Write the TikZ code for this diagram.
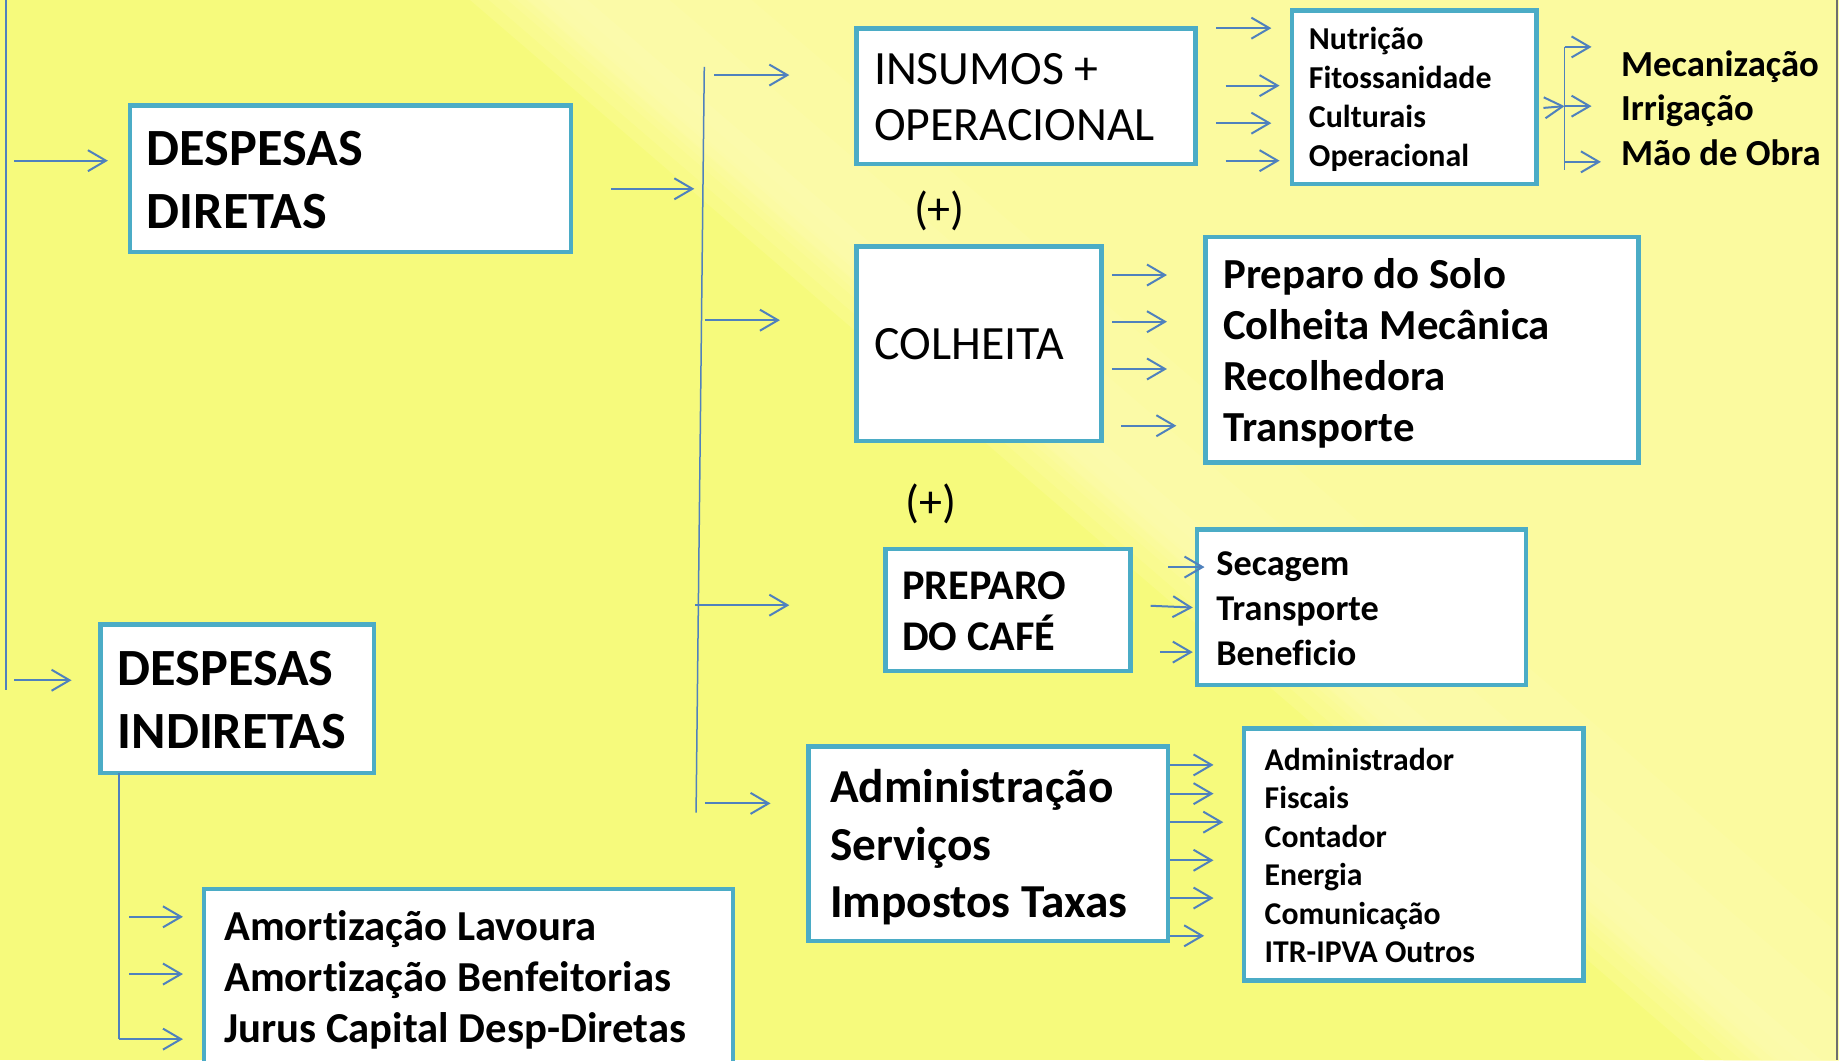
\documentclass[tikz,border=0pt]{standalone}
\usepackage{fontspec}
\setmainfont{Carlito}[Ligatures={NoCommon}]
\usetikzlibrary{arrows.meta,fit}
\definecolor{ysat}{RGB}{246,250,124}
\definecolor{ylight}{RGB}{254,252,164}
\definecolor{boxblue}{RGB}{75,172,198}
\definecolor{arrblue}{RGB}{79,129,189}
\definecolor{edgegray}{RGB}{110,110,110}
\newcommand\fsz[2]{\fontsize{#1}{#2}\selectfont}
\begin{document}
\begin{tikzpicture}[x=1.172832pt, y=-1.172832pt,
  box/.style={draw=boxblue, line width=4.5pt, fill=white, inner sep=0pt, outer sep=0pt, line join=miter},
  txt/.style={anchor=west, align=left, inner sep=0pt, outer sep=0pt, text=black},
  arr/.style={draw=arrblue, line width=2pt, -{Straight Barb[length=18pt,width=21pt]}},
  thinline/.style={draw=arrblue, line width=1.5pt},
]
\useasboundingbox (0,0) rectangle (1568,903.8);
% background
\fill[ysat] (0,0) rectangle (1568,903.8);
\foreach \t in {-40,-24,-8,8,24,40}
  \fill[ylight, opacity=0.3] (435+\t,-5) -- (1500+\t,910) -- (1575,910) -- (1575,-5) -- cycle;
\foreach \a/\b in {0/60,10/130,20/200}
  \fill[white, opacity=0.05] (435+\a,-5) -- (1500+\a,910) -- (1500+\b,910) -- (435+\b,-5) -- cycle;
\draw[edgegray, line width=2pt] (1566,0) -- (1566,903.8);

% boxes
\node[box, fit={(111,90) (487,215)}] (dd) {};
\node[box, fit={(730.4,24.5) (1019.5,140)}] (ins) {};
\node[box, fit={(1101.4,9) (1310,157)}] (nut) {};
\node[box, fit={(730.4,210) (939,376)}] (col) {};
\node[box, fit={(1028,202) (1397,394.5)}] (prep) {};
\node[box, fit={(754.9,468) (964,572)}] (cafe) {};
\node[box, fit={(1020.4,451.5) (1301,584)}] (sec) {};
\node[box, fit={(85.8,532.5) (319,659)}] (ind) {};
\node[box, fit={(689.3,636.5) (996,802.5)}] (adm) {};
\node[box, fit={(1060.7,621) (1350,836)}] (admr) {};
\node[box, fit={(173.9,758) (625,912)}] (amo) {};

% texts
\node[txt, font=\bfseries\fsz{52.3}{63.5}] (ddt) at ([xshift=16.6pt,yshift=-1pt]dd.west) {DESPESAS\\DIRETAS};
\node[txt, font=\fsz{47.8}{56.3}] (inst) at ([xshift=17.4pt,yshift=-1pt]ins.west) {INSUMOS +\\OPERACIONAL};
\node[txt, font=\bfseries\fsz{31.9}{38.7}] (nutt) at ([xshift=17.2pt,yshift=-2pt]nut.west) {Nutrição\\Fitossanidade\\Culturais\\Operacional};
\node[txt, font=\bfseries\fsz{36.7}{44.6}] (mec) at (1382.2,92) {Mecanização\\Irrigação\\Mão de Obra};
\node[txt, font=\fsz{47.8}{56}] (colt) at ([xshift=18.1pt,yshift=-1pt]col.west) {COLHEITA};
\node[txt, font=\bfseries\fsz{42.8}{51.2}] (prept) at ([xshift=17.6pt,yshift=-3.5pt]prep.west) {Preparo do Solo\\Colheita Mecânica\\Recolhedora\\Transporte};
\node[txt, font=\bfseries\fsz{42.3}{51.6}] (cafet) at ([xshift=16.9pt,yshift=-1.5pt]cafe.west) {PREPARO\\DO CAFÉ};
\node[txt, font=\bfseries\fsz{36.3}{44.6}] (sect) at ([xshift=19.6pt,yshift=-1.5pt]sec.west) {Secagem\\Transporte\\Beneficio};
\node[txt, font=\bfseries\fsz{52.3}{63.5}] (indt) at ([xshift=17pt,yshift=-1.5pt]ind.west) {DESPESAS\\INDIRETAS};
\node[txt, font=\bfseries\fsz{47.3}{57.5}] (admt) at ([xshift=21.8pt,yshift=-3.5pt]adm.west) {Administração\\Serviços\\Impostos Taxas};
\node[txt, font=\bfseries\fsz{31.7}{38.5}] (admrt) at ([xshift=20.7pt,yshift=-1pt]admr.west) {Administrador\\Fiscais\\Contador\\Energia\\Comunicação\\ITR-IPVA Outros};
\node[txt, font=\bfseries\fsz{42.7}{51}] (amot) at ([xshift=20.4pt,yshift=-1pt]amo.west) {Amortização Lavoura\\Amortização Benfeitorias\\Jurus Capital Desp-Diretas};
\node[font=\fsz{46}{52}, inner sep=0pt] (plus1) at (801,180) {(+)};
\node[font=\fsz{46}{52}, inner sep=0pt] (plus2) at (794,430) {(+)};

% left trunk
\draw[thinline] (5,0) -- (5,588);
\draw[arr] (12,137) -- (92,137);
\draw[arr] (12,580) -- (61,580);

% direct costs bracket
\draw[arr] (521,161) -- (592,161);
\draw[thinline] (600.5,57) -- (593.5,692.8);
\draw[arr] (609,64) -- (673,64);
\draw[arr] (601,273) -- (665,273);
\draw[arr] (593,516) -- (673,516);
\draw[arr] (601,685) -- (657,685);

% insumos -> nutricao
\draw[arr] (1037,24) -- (1084,24);
\draw[arr] (1045,73) -- (1091,73);
\draw[arr] (1037,105) -- (1084,105);
\draw[arr] (1045,137) -- (1091,137);

% nutricao -> mecanizacao
\draw[arr] (1316,92) -- (1334,90.5);
\draw[thinline] (1334,40) -- (1334,145);
\draw[arr] (1334,40) -- (1357,40);
\draw[arr] (1334,90.5) -- (1357,90.5);
\draw[arr] (1334,138) -- (1365,138);

% colheita -> preparo
\draw[arr] (948,234.5) -- (995,234.5);
\draw[arr] (948,274.3) -- (995,274.3);
\draw[arr] (948,314.6) -- (995,314.6);
\draw[arr] (956,363) -- (1003,363);

% cafe -> secagem
\draw[arr] (996,483.5) -- (1027,483.5);
\draw[arr] (981,516.5) -- (1017,518);
\draw[arr] (989,556) -- (1017,556);

% administracao -> administrador
\draw[arr] (997.6,652.2) -- (1034.7,652.2);
\draw[arr] (997.6,676.7) -- (1034.7,676.7);
\draw[arr] (997.6,701) -- (1043,701);
\draw[arr] (997.6,733.5) -- (1034.7,733.5);
\draw[arr] (997.6,765.7) -- (1034.7,765.7);
\draw[arr] (997.6,797.9) -- (1026.7,797.9);

% indirect costs
\draw[thinline] (101.6,659) -- (101.6,886);
\draw[arr] (110,781.7) -- (156,781.7);
\draw[arr] (110,830.5) -- (156,830.5);
\draw[arr] (101.6,886) -- (156,886);
\end{tikzpicture}
\end{document}
